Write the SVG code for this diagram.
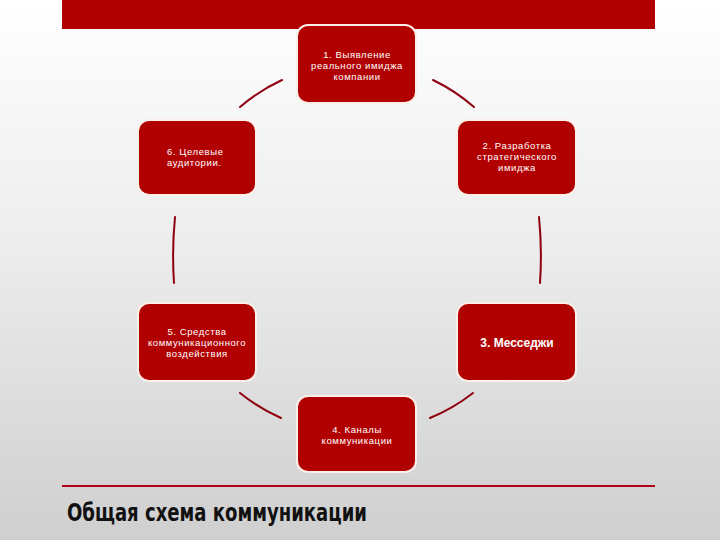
<svg xmlns="http://www.w3.org/2000/svg" width="720" height="540" viewBox="0 0 720 540">
<defs>
<linearGradient id="bg" x1="0" y1="0" x2="0" y2="1">
<stop offset="0" stop-color="#ffffff"/>
<stop offset="0.45" stop-color="#ededed"/>
<stop offset="1" stop-color="#cfcfcf"/>
</linearGradient>
</defs>
<style>
.node{fill:#b10000;stroke:#fbefe8;stroke-width:2}
.t{fill:#ffffff;font-family:"Liberation Sans",Arial,sans-serif;font-size:9.5px;letter-spacing:0.6px;text-anchor:middle}
.tb{fill:#ffffff;font-family:"Liberation Sans",Arial,sans-serif;font-size:12px;font-weight:bold;text-anchor:middle}
.c{fill:none;stroke:#8e0010;stroke-width:2;stroke-linecap:round}
</style>
<rect x="0" y="0" width="720" height="540" fill="url(#bg)"/>
<rect x="62" y="0" width="593" height="29" fill="#b00000"/>
<g id="connectors">
<path class="c" d="M240,107 A183,188 0 0 1 282,80"/>
<path class="c" d="M433,80 A183,188 0 0 1 474,107"/>
<path class="c" d="M539,217 A400,400 0 0 1 540,283"/>
<path class="c" d="M473,393 A183,188 0 0 1 430,418"/>
<path class="c" d="M281,418 A183,188 0 0 1 240,393"/>
<path class="c" d="M174,283 A400,400 0 0 1 175,217"/>
</g>
<g id="n1">
<rect class="node" x="297" y="25" width="119" height="78" rx="11"/>
<text class="t" x="357" y="58">1. Выявление</text>
<text class="t" x="357" y="69">реального имиджа</text>
<text class="t" x="357" y="80">компании</text>
</g>
<g id="n2">
<rect class="node" x="457" y="120" width="119" height="75" rx="11"/>
<text class="t" x="517" y="149">2. Разработка</text>
<text class="t" x="517" y="160">стратегического</text>
<text class="t" x="517" y="171">имиджа</text>
</g>
<g id="n3">
<rect class="node" x="457" y="303" width="119" height="78" rx="11"/>
<text class="tb" x="517" y="347">3. Месседжи</text>
</g>
<g id="n4">
<rect class="node" x="297" y="396" width="119" height="76" rx="11"/>
<text class="t" x="357" y="433">4. Каналы</text>
<text class="t" x="357" y="444">коммуникации</text>
</g>
<g id="n5">
<rect class="node" x="138" y="303" width="118" height="78" rx="11"/>
<text class="t" x="197" y="335">5. Средства</text>
<text class="t" x="197" y="346">коммуникационного</text>
<text class="t" x="197" y="357">воздействия</text>
</g>
<g id="n6">
<rect class="node" x="138" y="120" width="118" height="75" rx="11"/>
<text class="t" x="167" y="155" style="text-anchor:start">6. Целевые</text>
<text class="t" x="167" y="166" style="text-anchor:start">аудитории.</text>
</g>
<line x1="62" y1="486" x2="655" y2="486" stroke="#b0001a" stroke-width="2"/>
<text x="67" y="521" font-family="'Liberation Sans Narrow','DejaVu Sans Condensed',sans-serif" font-weight="bold" font-size="25" fill="#111111" textLength="300" lengthAdjust="spacingAndGlyphs">Общая схема коммуникации</text>
</svg>
